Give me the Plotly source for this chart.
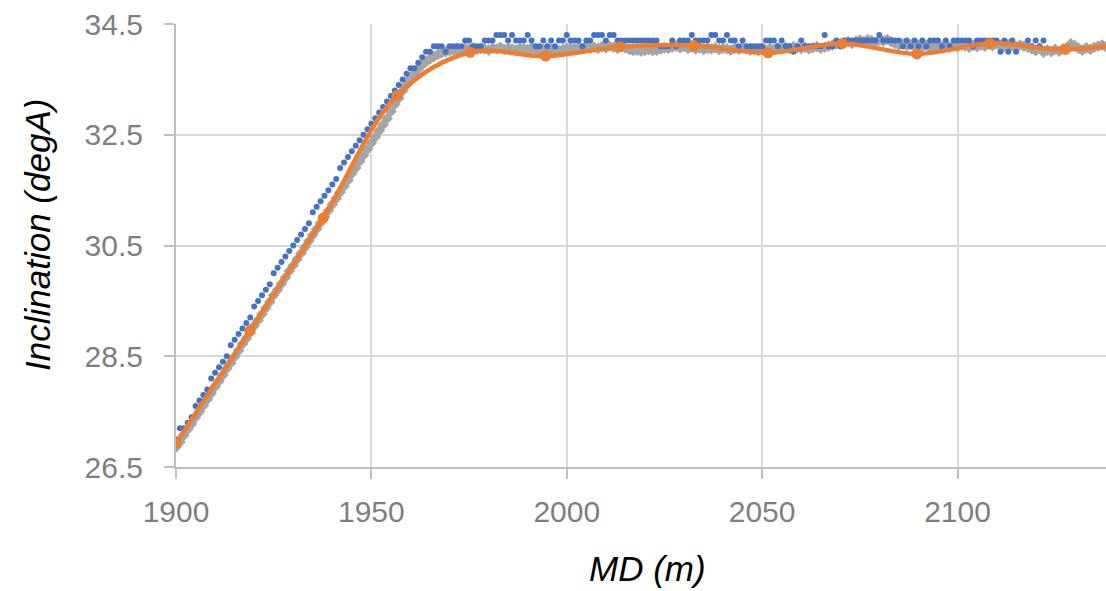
import plotly.graph_objects as go

# ---------------- data ----------------
# Gray series (diamonds), MD in m and inclination in degA
gray_md = [
    1900, 1901, 1902, 1903, 1904, 1905, 1906, 1907, 1908, 1909, 1910, 1911, 1912, 1913, 1914, 1915, 1916, 1917, 1918, 1919,
    1920, 1921, 1922, 1923, 1924, 1925, 1926, 1927, 1928, 1929, 1930, 1931, 1932, 1933, 1934, 1935, 1936, 1937, 1938, 1939,
    1940, 1941, 1942, 1943, 1944, 1945, 1946, 1947, 1948, 1949, 1950, 1951, 1952, 1953, 1954, 1955, 1956, 1957, 1958, 1959,
    1960, 1961, 1962, 1963, 1964, 1965, 1966, 1967, 1968, 1969, 1970, 1971, 1972, 1973, 1974, 1975, 1976, 1977, 1978, 1979,
    1980, 1981, 1982, 1983, 1984, 1985, 1986, 1987, 1988, 1989, 1990, 1991, 1992, 1993, 1994, 1995, 1996, 1997, 1998, 1999,
    2000, 2001, 2002, 2003, 2004, 2005, 2006, 2007, 2008, 2009, 2010, 2011, 2012, 2013, 2014, 2015, 2016, 2017, 2018, 2019,
    2020, 2021, 2022, 2023, 2024, 2025, 2026, 2027, 2028, 2029, 2030, 2031, 2032, 2033, 2034, 2035, 2036, 2037, 2038, 2039,
    2040, 2041, 2042, 2043, 2044, 2045, 2046, 2047, 2048, 2049, 2050, 2051, 2052, 2053, 2054, 2055, 2056, 2057, 2058, 2059,
    2060, 2061, 2062, 2063, 2064, 2065, 2066, 2067, 2068, 2069, 2070, 2071, 2072, 2073, 2074, 2075, 2076, 2077, 2078, 2079,
    2080, 2081, 2082, 2083, 2084, 2085, 2086, 2087, 2088, 2089, 2090, 2091, 2092, 2093, 2094, 2095, 2096, 2097, 2098, 2099,
    2100, 2101, 2102, 2103, 2104, 2105, 2106, 2107, 2108, 2109, 2110, 2111, 2112, 2113, 2114, 2115, 2116, 2117, 2118, 2119,
    2120, 2121, 2122, 2123, 2124, 2125, 2126, 2127, 2128, 2129, 2130, 2131, 2132, 2133, 2134, 2135, 2136, 2137, 2138,
]
gray_inc = [
    26.86, 26.95, 27.07, 27.18, 27.28, 27.40, 27.50, 27.61, 27.72, 27.83, 27.95, 28.05, 28.16, 28.28, 28.38, 28.49, 28.60, 28.72, 28.82, 28.93,
    29.05, 29.15, 29.26, 29.37, 29.48, 29.60, 29.70, 29.81, 29.92, 30.04, 30.14, 30.25, 30.36, 30.47, 30.58, 30.69, 30.80, 30.91, 31.02, 31.13,
    31.24, 31.35, 31.46, 31.57, 31.68, 31.80, 31.90, 32.02, 32.13, 32.24, 32.35, 32.46, 32.57, 32.68, 32.79, 32.92, 33.05, 33.16, 33.29, 33.40,
    33.52, 33.61, 33.69, 33.76, 33.82, 33.87, 33.91, 33.95, 33.98, 34.00, 34.02, 34.03, 34.05, 34.04, 34.06, 34.05, 34.07, 34.04, 34.06, 34.05,
    34.03, 34.06, 34.05, 34.08, 34.04, 34.06, 34.05, 34.03, 34.06, 34.05, 34.04, 34.07, 34.05, 34.03, 34.04, 34.06, 34.05, 34.03, 34.02, 34.04,
    34.06, 34.07, 34.05, 34.08, 34.06, 34.09, 34.07, 34.08, 34.06, 34.09, 34.07, 34.10, 34.08, 34.06, 34.09, 34.07, 34.04, 34.02, 34.03, 34.01,
    34.02, 34.04, 34.02, 34.03, 34.05, 34.07, 34.06, 34.08, 34.10, 34.07, 34.09, 34.06, 34.08, 34.05, 34.07, 34.04, 34.06, 34.05, 34.07, 34.04,
    34.06, 34.05, 34.03, 34.06, 34.04, 34.07, 34.05, 34.03, 34.04, 34.02, 34.05, 34.03, 34.06, 34.04, 34.07, 34.05, 34.08, 34.06, 34.09, 34.07,
    34.06, 34.08, 34.05, 34.07, 34.09, 34.06, 34.08, 34.10, 34.12, 34.14, 34.13, 34.16, 34.18, 34.15, 34.19, 34.21, 34.18, 34.22, 34.20, 34.17,
    34.21, 34.19, 34.22, 34.18, 34.15, 34.12, 34.14, 34.11, 34.13, 34.10, 34.12, 34.09, 34.11, 34.08, 34.10, 34.07, 34.09, 34.11, 34.08, 34.10,
    34.09, 34.12, 34.10, 34.08, 34.11, 34.09, 34.12, 34.10, 34.13, 34.11, 34.14, 34.12, 34.10, 34.13, 34.11, 34.09, 34.12, 34.10, 34.08, 34.05,
    34.02, 34.06, 33.99, 34.03, 34.00, 34.04, 34.01, 34.05, 34.08, 34.14, 34.11, 34.06, 34.03, 34.07, 34.04, 34.08, 34.10, 34.12, 34.09,
]

# Blue series (dots)
blue_md = [
    1900, 1901, 1902, 1903, 1904, 1905, 1906, 1907, 1908, 1909, 1910, 1911, 1912, 1913, 1914, 1915, 1916, 1917, 1918, 1919,
    1920, 1921, 1922, 1923, 1924, 1925, 1926, 1927, 1928, 1929, 1930, 1931, 1932, 1933, 1934, 1935, 1936, 1937, 1938, 1939,
    1940, 1941, 1942, 1943, 1944, 1945, 1946, 1947, 1948, 1949, 1950, 1951, 1952, 1953, 1954, 1955, 1956, 1957, 1958, 1959,
    1960, 1961, 1962, 1963, 1964, 1965, 1966, 1967, 1968, 1969, 1970, 1971, 1972, 1973, 1974, 1975, 1976, 1977, 1978, 1979,
    1980, 1981, 1982, 1983, 1984, 1985, 1986, 1987, 1988, 1989, 1990, 1991, 1992, 1993, 1994, 1995, 1996, 1997, 1998, 1999,
    2000, 2001, 2002, 2003, 2004, 2005, 2006, 2007, 2008, 2009, 2010, 2011, 2012, 2013, 2014, 2015, 2016, 2017, 2018, 2019,
    2020, 2021, 2022, 2023, 2024, 2025, 2026, 2027, 2028, 2029, 2030, 2031, 2032, 2033, 2034, 2035, 2036, 2037, 2038, 2039,
    2040, 2041, 2042, 2043, 2044, 2045, 2046, 2047, 2048, 2049, 2050, 2051, 2052, 2053, 2054, 2055, 2056, 2057, 2058, 2059,
    2060, 2061, 2062, 2063, 2064, 2065, 2066, 2067, 2068, 2069, 2070, 2071, 2072, 2073, 2074, 2075, 2076, 2077, 2078, 2079,
    2080, 2081, 2082, 2083, 2084, 2085, 2086, 2087, 2088, 2089, 2090, 2091, 2092, 2093, 2094, 2095, 2096, 2097, 2098, 2099,
    2100, 2101, 2102, 2103, 2104, 2105, 2106, 2107, 2108, 2109, 2110, 2111, 2112, 2113, 2114, 2115, 2118, 2119,
    2120, 2121, 2122,
]
blue_inc = [
    27.0, 27.2, 27.2, 27.3, 27.4, 27.6, 27.7, 27.8, 27.9, 28.1, 28.2, 28.3, 28.4, 28.5, 28.7, 28.8, 28.9, 29.0, 29.1, 29.2,
    29.4, 29.5, 29.6, 29.7, 29.8, 30.0, 30.1, 30.2, 30.3, 30.4, 30.5, 30.6, 30.7, 30.8, 30.9, 31.1, 31.2, 31.3, 31.4, 31.5,
    31.6, 31.7, 31.9, 32.0, 32.1, 32.2, 32.3, 32.4, 32.5, 32.6, 32.7, 32.8, 32.9, 33.0, 33.1, 33.2, 33.3, 33.4, 33.5, 33.6,
    33.7, 33.7, 33.8, 33.9, 34.0, 34.0, 34.1, 34.1, 34.1, 34.0, 34.1, 34.1, 34.1, 34.1, 34.2, 34.2, 34.1, 34.1, 34.1, 34.2,
    34.2, 34.2, 34.3, 34.3, 34.3, 34.2, 34.3, 34.2, 34.2, 34.2, 34.3, 34.2, 34.1, 34.1, 34.2, 34.1, 34.2, 34.1, 34.2, 34.2,
    34.3, 34.2, 34.2, 34.2, 34.1, 34.2, 34.2, 34.3, 34.3, 34.3, 34.2, 34.3, 34.3, 34.2, 34.2, 34.2, 34.2, 34.2, 34.2, 34.2,
    34.2, 34.2, 34.2, 34.2, 34.1, 34.1, 34.1, 34.2, 34.1, 34.2, 34.2, 34.2, 34.3, 34.2, 34.2, 34.2, 34.2, 34.3, 34.3, 34.2,
    34.2, 34.3, 34.2, 34.2, 34.1, 34.2, 34.1, 34.1, 34.1, 34.1, 34.1, 34.2, 34.2, 34.2, 34.1, 34.2, 34.1, 34.1, 34.0, 34.1,
    34.2, 34.1, 34.1, 34.1, 34.1, 34.1, 34.3, 34.1, 34.1, 34.2, 34.1, 34.2, 34.2, 34.2, 34.2, 34.2, 34.2, 34.2, 34.2, 34.2,
    34.3, 34.2, 34.2, 34.2, 34.2, 34.2, 34.1, 34.2, 34.1, 34.2, 34.1, 34.2, 34.1, 34.2, 34.2, 34.2, 34.1, 34.2, 34.1, 34.2,
    34.2, 34.2, 34.2, 34.2, 34.1, 34.2, 34.2, 34.2, 34.2, 34.2, 34.2, 34.0, 34.2, 34.0, 34.2, 34.0, 34.2, 34.1,
    34.2, 34.1, 34.2,
]

# Orange series (smoothed line with markers)
orange_md = [1900.0, 1918.9, 1937.7, 1956.6, 1975.3, 1994.6, 2013.6, 2032.5, 2051.5, 2070.5, 2089.6, 2108.3, 2127.6, 2146.5]
orange_inc = [26.93, 28.96, 31.0, 33.21, 33.99, 33.92, 34.09, 34.11, 33.98, 34.15, 33.96, 34.15, 34.04, 34.18]

x_ticks = [1900, 1950, 2000, 2050, 2100]
y_ticks = [26.5, 28.5, 30.5, 32.5, 34.5]
x_title = "MD (m)"
y_title = "Inclination (degA)"

# ---------------- figure ----------------
FONT = "Liberation Sans, Arial, sans-serif"

fig = go.Figure()
fig.add_trace(go.Scatter(
    x=gray_md, y=gray_inc, mode="markers",
    marker=dict(symbol="diamond", size=9, color="#A5A5A5", line=dict(width=0)),
    hoverinfo="skip",
))
fig.add_trace(go.Scatter(
    x=blue_md, y=blue_inc, mode="markers",
    marker=dict(symbol="circle", size=6, color="#4472C4", line=dict(width=0)),
    hoverinfo="skip",
))
fig.add_trace(go.Scatter(
    x=orange_md, y=orange_inc, mode="lines+markers",
    line=dict(color="#ED7D31", width=4.5, shape="spline", smoothing=1),
    marker=dict(symbol="circle", size=11, color="#ED7D31"),
    hoverinfo="skip",
))

fig.update_layout(
    width=1106, height=591,
    margin=dict(l=176, r=0, t=24, b=124, pad=0),
    paper_bgcolor="white", plot_bgcolor="white",
    showlegend=False,
    font=dict(family=FONT),
    annotations=[
        dict(text=x_title, xref="paper", yref="paper", x=0.5065, y=-0.230,
             xanchor="center", yanchor="middle", showarrow=False,
             font=dict(family=FONT, size=35, color="#000000", style="italic")),
        dict(text=y_title, xref="paper", yref="paper", x=-0.1495, y=0.5237,
             xanchor="center", yanchor="middle", showarrow=False, textangle=-90,
             font=dict(family=FONT, size=35, color="#000000", style="italic")),
    ],
)
fig.update_xaxes(
    range=[1900, 2138], tickmode="array", tickvals=x_ticks,
    ticktext=[str(v) for v in x_ticks],
    showgrid=True, gridcolor="#D9D9D9", gridwidth=2,
    showline=True, linecolor="#BFBFBF", linewidth=2,
    ticks="outside", ticklen=10, tickwidth=2, tickcolor="#BFBFBF",
    tickfont=dict(family=FONT, size=30, color="#7F7F7F"),
    ticklabelstandoff=7, zeroline=False,
)
fig.update_yaxes(
    range=[26.5, 34.5], tickmode="array", tickvals=y_ticks,
    ticktext=[f"{v:.1f}" for v in y_ticks],
    showgrid=True, gridcolor="#D9D9D9", gridwidth=2,
    showline=True, linecolor="#BFBFBF", linewidth=2,
    ticks="outside", ticklen=10, tickwidth=2, tickcolor="#BFBFBF",
    tickfont=dict(family=FONT, size=30, color="#7F7F7F"),
    ticklabelstandoff=15, zeroline=False,
)

fig.write_html("out.html")
